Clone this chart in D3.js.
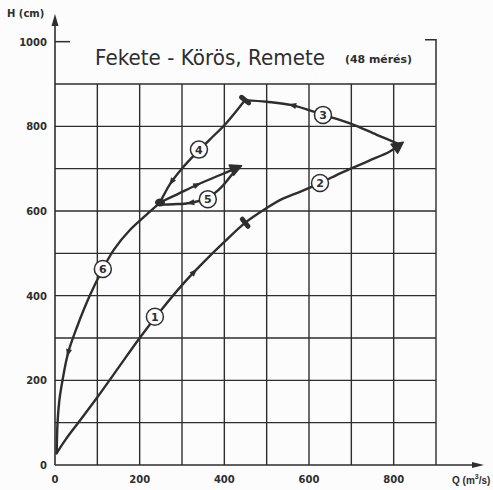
<!DOCTYPE html>
<html>
<head>
<meta charset="utf-8">
<script src="https://cdn.jsdelivr.net/npm/d3@7"></script>
<style>
  body { margin: 0; background: #fcfcfc; }
  text { font-family: "DejaVu Sans", sans-serif; fill: #2e2e2e; }
</style>
</head>
<body>
<script>
var w = 493;
var h = 490;

// tick labels
var qTicks = [0, 200, 400, 600, 800];
var hTicks = [0, 200, 400, 600, 800, 1000];

// loop branches, [Q m3/s, H cm]
var branch1 = [[4, 28], [25, 60], [55, 100], [100, 160], [150, 230], [200, 300], [250, 365], [300, 425], [350, 478], [400, 527], [449, 572], [500, 607], [536, 628]];
var branch2 = [[536, 628], [580, 646], [626, 666], [680, 692], [740, 718], [790, 740], [815, 757]];
var branch3 = [[815, 757], [760, 780], [700, 806], [634, 827], [560, 850], [500, 858], [449, 862]];
var branch4 = [[449, 862], [405, 808], [365, 768], [330, 733], [298, 698], [272, 664], [248, 620]];
var branch5a = [[248, 620], [290, 640], [336, 662], [390, 685], [432, 703]];
var branch5b = [[432, 703], [413, 680], [392, 655], [361, 631], [319, 619], [280, 616], [250, 615]];
var branch6 = [[248, 620], [215, 590], [177, 555], [140, 510], [113, 463], [83, 402], [52, 326], [31, 265], [17, 196], [10, 150], [6, 100], [4, 28]];

// circled branch numbers
var labelText = ["1", "2", "3", "4", "5", "6"];
var labelQ = [236, 626, 633, 340, 361, 113];
var labelH = [350, 666, 827, 745, 628, 463];

// small direction arrows: branch index and position
var arrowSeg = [0, 1, 2, 3, 4, 5];
var arrowQ = [330, 560, 274, 336, 319, 31];
var arrowH = [456, 850, 669, 662, 619, 265];

var x = d3.scaleLinear().domain([0, 900]).range([55, 436]);
var y = d3.scaleLinear().domain([0, 900]).range([465, 84]);

var svg = d3.select("body").append("svg")
  .attr("width", w)
  .attr("height", h);

var ink = "#2e2e2e";

// grid
var grid = svg.append("g").attr("stroke", ink).attr("stroke-width", 1.4);
grid.selectAll("line.v").data(d3.range(100, 1000, 100)).join("line")
  .attr("x1", d => x(d)).attr("x2", d => x(d))
  .attr("y1", y(0)).attr("y2", y(900));
grid.selectAll("line.h").data(d3.range(100, 1000, 100)).join("line")
  .attr("x1", x(0)).attr("x2", x(900))
  .attr("y1", d => y(d)).attr("y2", d => y(d));

// axes with arrows
svg.append("line").attr("stroke", ink).attr("stroke-width", 1.6)
  .attr("x1", x(0)).attr("x2", x(0)).attr("y1", y(0)).attr("y2", 22);
svg.append("path").attr("fill", ink)
  .attr("d", "M" + x(0) + ",14 l-3.5,12 l7,0 Z");
svg.append("line").attr("stroke", ink).attr("stroke-width", 1.6)
  .attr("x1", x(0)).attr("x2", 476).attr("y1", y(0)).attr("y2", y(0));
svg.append("path").attr("fill", ink)
  .attr("d", "M484," + y(0) + " l-12,-3 l0,6 Z");

// 1000 tick and the right frame
svg.append("line").attr("stroke", ink).attr("stroke-width", 1.5)
  .attr("x1", x(0)).attr("x2", x(0) + 15).attr("y1", y(1000)).attr("y2", y(1000));
svg.append("path").attr("fill", "none").attr("stroke", ink).attr("stroke-width", 1.5)
  .attr("d", "M" + (x(900) - 11) + "," + (y(1000) - 2) + " H" + x(900) + " V" + y(900));

// tick labels
svg.selectAll("text.yt").data(hTicks).join("text")
  .attr("x", 47).attr("y", d => y(d) + 4)
  .attr("text-anchor", "end")
  .attr("font-size", 10).attr("font-weight", "bold")
  .text(d => d);
svg.selectAll("text.xt").data(qTicks).join("text")
  .attr("x", d => x(d)).attr("y", 483)
  .attr("text-anchor", "middle")
  .attr("font-size", 10).attr("font-weight", "bold")
  .text(d => d);

svg.append("text").attr("x", 7).attr("y", 17)
  .attr("font-size", 10).attr("font-weight", "bold").text("H (cm)");
var ql = svg.append("text").attr("x", 452).attr("y", 484)
  .style("font-family", "'Liberation Sans', sans-serif")
  .attr("font-size", 10).attr("font-weight", "bold");
ql.append("tspan").text("Q (m");
ql.append("tspan").attr("dy", -5).attr("font-size", 7).text("3");
ql.append("tspan").attr("dy", 5).text("/s)");

// title
svg.append("text").attr("x", 95).attr("y", 65)
  .attr("font-size", 21)
  .attr("textLength", 230).attr("lengthAdjust", "spacingAndGlyphs")
  .text("Fekete - Körös, Remete");
svg.append("text").attr("x", 345).attr("y", 63)
  .attr("font-size", 11).attr("font-weight", "bold")
  .attr("textLength", 67).attr("lengthAdjust", "spacingAndGlyphs")
  .text("(48 mérés)");

// loop curves; rising limb 1-2 drawn as one stroke
var line = d3.line()
  .x(d => x(d[0]))
  .y(d => y(d[1]))
  .curve(d3.curveCatmullRom.alpha(0.5));

var segs = [branch1.concat(branch2.slice(1)), branch3, branch4, branch5a, branch5b, branch6];
var paths = svg.append("g").selectAll("path").data(segs).join("path")
  .attr("d", line)
  .attr("fill", "none")
  .attr("stroke", ink)
  .attr("stroke-width", 2.4)
  .attr("stroke-linecap", "round");

function nearestLen(node, px, py) {
  var L = node.getTotalLength(), best = 0, bd = Infinity;
  for (var s = 0; s <= L; s += 0.5) {
    var p = node.getPointAtLength(s);
    var d = (p.x - px) * (p.x - px) + (p.y - py) * (p.y - py);
    if (d < bd) { bd = d; best = s; }
  }
  return best;
}

function dirAt(node, s) {
  var L = node.getTotalLength();
  var a = node.getPointAtLength(Math.max(0, s - 1));
  var b = node.getPointAtLength(Math.min(L, s + 1));
  return Math.atan2(b.y - a.y, b.x - a.x) * 180 / Math.PI;
}

var marks = svg.append("g").attr("fill", ink);

// small arrows along the branches
arrowSeg.forEach(function(si, i) {
  var node = paths.nodes()[si];
  var s = nearestLen(node, x(arrowQ[i]), y(arrowH[i]));
  var p = node.getPointAtLength(s);
  marks.append("path")
    .attr("d", "M4,0 L-4,-3 L-4,3 Z")
    .attr("transform", "translate(" + p.x + "," + p.y + ") rotate(" + dirAt(node, s) + ")");
});

// big arrow heads at the branch ends (peak discharge, loop 5 top)
[0, 3].forEach(function(si) {
  var node = paths.nodes()[si];
  var L = node.getTotalLength();
  var p = node.getPointAtLength(L);
  marks.append("path")
    .attr("d", "M4,0 L-7,-5.5 L-7,5.5 Z")
    .attr("stroke", ink).attr("stroke-width", 1.5).attr("stroke-linejoin", "round")
    .attr("transform", "translate(" + p.x + "," + p.y + ") rotate(" + dirAt(node, L - 2) + ")");
});

// node blob where loops 4, 5 and 6 meet
marks.append("ellipse")
  .attr("cx", x(branch4[branch4.length - 1][0]))
  .attr("cy", y(branch4[branch4.length - 1][1]))
  .attr("rx", 5).attr("ry", 4);

// cross bars: on branch 1 and at peak stage
[[0, branch1[10]], [2, branch4[0]]].forEach(function(t) {
  var node = paths.nodes()[t[0]];
  var s = nearestLen(node, x(t[1][0]), y(t[1][1]));
  var p = node.getPointAtLength(s);
  marks.append("rect")
    .attr("x", -2.5).attr("y", -7).attr("width", 5).attr("height", 14).attr("rx", 2.5)
    .attr("transform", "translate(" + p.x + "," + p.y + ") rotate(" + dirAt(node, s) + ")");
});

// circled numbers
var lab = svg.append("g").selectAll("g").data(labelText).join("g")
  .attr("transform", (d, i) => "translate(" + x(labelQ[i]) + "," + y(labelH[i]) + ")");
lab.append("circle")
  .attr("r", 8.5)
  .attr("fill", "#fcfcfc")
  .attr("stroke", ink)
  .attr("stroke-width", 1.5);
lab.append("text")
  .attr("text-anchor", "middle")
  .attr("y", 4)
  .attr("font-size", 11)
  .attr("font-weight", "bold")
  .text(d => d);
</script>
</body>
</html>
